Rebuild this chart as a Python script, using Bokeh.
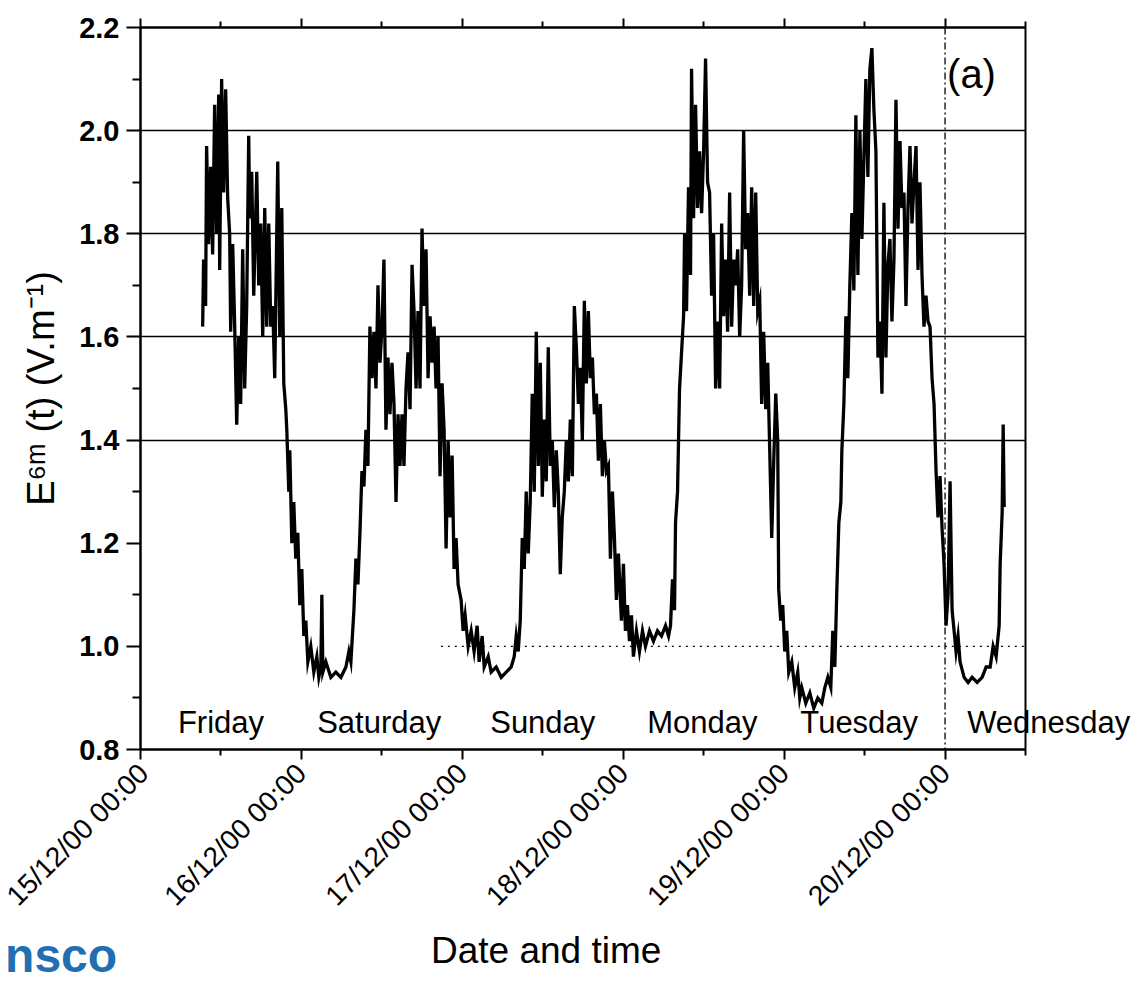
import math
from datetime import datetime, timezone

from bokeh.plotting import figure
from bokeh.models import (DatetimeAxis, FixedTicker, DatetimeTickFormatter,
                          PrintfTickFormatter, Span, Label, Range1d)
from bokeh.embed import file_html
from bokeh.resources import INLINE

# ---------------------------------------------------------------------------
# Electric field at 6 m height, 15/12/2000 - 20/12/2000
# time: hours elapsed since 15/12/00 00:00, field in V/m
# ---------------------------------------------------------------------------
hours = [
    9.27, 9.41, 9.71, 9.86, 10.16, 10.46, 10.76, 11.06, 11.36, 11.66, 11.81, 12.10, 12.40, 12.70,
    13.00, 13.30, 13.45, 13.75, 14.05, 14.35, 14.65, 14.94, 15.24, 15.54, 15.84, 16.14, 16.29,
    16.59, 16.89, 17.34, 17.63, 17.93, 18.23, 18.53, 18.83, 19.13, 19.43, 19.73, 20.02, 20.47,
    20.77, 21.07, 21.37, 21.67, 21.82, 22.12, 22.27, 22.57, 22.86, 23.16, 23.46, 23.76, 24.06,
    24.36, 24.66, 24.96, 25.40, 25.85, 26.30, 26.60, 26.90, 27.05, 27.20, 27.65, 28.39, 29.14,
    29.89, 30.64, 31.08, 31.38, 31.83, 32.13, 32.43, 32.73, 33.03, 33.33, 33.62, 33.92, 34.22,
    34.52, 34.82, 35.12, 35.42, 35.72, 36.02, 36.31, 36.61, 36.91, 37.21, 37.51, 37.81, 38.11,
    38.41, 38.71, 39.00, 39.30, 39.60, 39.90, 40.20, 40.50, 40.80, 41.10, 41.39, 41.69, 41.99,
    42.29, 42.59, 42.89, 43.19, 43.49, 43.79, 44.08, 44.38, 44.68, 44.98, 45.28, 45.58, 45.88,
    46.18, 46.48, 46.77, 47.07, 47.37, 47.82, 48.12, 48.42, 48.87, 49.32, 49.76, 50.21, 50.51,
    50.96, 51.26, 51.86, 52.30, 53.05, 53.80, 54.55, 55.29, 55.74, 56.04, 56.34, 56.64, 56.94,
    57.24, 57.53, 57.83, 58.13, 58.43, 58.73, 59.03, 59.33, 59.63, 59.93, 60.22, 60.52, 60.82,
    61.12, 61.42, 61.72, 62.02, 62.32, 62.61, 62.91, 63.21, 63.51, 63.81, 64.11, 64.41, 64.71,
    65.01, 65.31, 65.60, 65.90, 66.20, 66.50, 66.80, 67.10, 67.40, 67.70, 68.00, 68.29, 68.59,
    68.89, 69.19, 69.49, 69.79, 70.09, 70.39, 70.69, 70.98, 71.28, 71.73, 72.03, 72.33, 72.63,
    72.93, 73.23, 73.52, 73.97, 74.42, 74.87, 75.32, 75.92, 76.51, 77.11, 77.71, 78.31, 78.76,
    79.05, 79.35, 79.65, 79.80, 80.10, 80.25, 80.40, 80.70, 81.00, 81.15, 81.44, 81.74, 82.04,
    82.19, 82.49, 82.79, 83.09, 83.39, 83.69, 83.99, 84.28, 84.58, 84.88, 85.18, 85.48, 85.78,
    86.08, 86.38, 86.68, 86.97, 87.27, 87.57, 87.87, 88.17, 88.47, 88.77, 89.07, 89.37, 89.66,
    89.96, 90.26, 90.56, 90.86, 91.16, 91.46, 91.76, 92.06, 92.36, 92.65, 92.95, 93.25, 93.55,
    93.85, 94.15, 94.45, 94.75, 95.04, 95.19, 95.49, 95.79, 96.09, 96.39, 96.69, 97.14, 97.58,
    98.03, 98.33, 98.63, 99.23, 99.83, 100.42, 101.02, 101.62, 102.07, 102.52, 102.96, 103.26,
    103.56, 103.86, 104.16, 104.46, 104.61, 104.91, 105.21, 105.50, 105.80, 106.10, 106.40,
    106.70, 107.00, 107.30, 107.60, 107.90, 108.19, 108.49, 108.79, 109.09, 109.39, 109.69,
    109.99, 110.29, 110.59, 110.88, 111.18, 111.48, 111.78, 112.08, 112.38, 112.68, 112.98,
    113.28, 113.57, 113.87, 114.17, 114.47, 114.77, 115.07, 115.37, 115.67, 115.97, 116.26,
    116.56, 116.86, 117.16, 117.46, 117.76, 118.06, 118.36, 118.66, 118.95, 119.25, 119.55,
    119.85, 120.15, 120.45, 120.75, 121.05, 121.35, 121.64, 121.94, 122.24, 122.84, 123.44,
    124.04, 124.78, 125.53, 126.13, 126.73, 127.17, 127.62, 128.07, 128.22, 128.52, 128.67,
    128.82,
]

e_field = [
    1.62, 1.75, 1.66, 1.97, 1.78, 1.93, 1.76, 2.05, 1.80, 2.07, 1.73, 2.10, 1.88, 2.08,
    1.87, 1.80, 1.61, 1.78, 1.62, 1.43, 1.60, 1.47, 1.77, 1.50, 1.66, 1.99, 1.83,
    1.92, 1.68, 1.92, 1.70, 1.82, 1.60, 1.85, 1.62, 1.82, 1.62, 1.66, 1.52, 1.94,
    1.60, 1.85, 1.51, 1.46, 1.42, 1.30, 1.38, 1.20, 1.28, 1.17, 1.22, 1.08, 1.15,
    1.02, 1.05, 0.97, 1.00, 0.95, 0.98, 0.94, 0.96, 1.10, 0.95, 0.97, 0.94, 0.95,
    0.94, 0.96, 0.99, 0.97, 1.07, 1.17, 1.12, 1.22, 1.34, 1.31, 1.42, 1.35, 1.62,
    1.52, 1.61, 1.50, 1.70, 1.55, 1.62, 1.75, 1.42, 1.56, 1.45, 1.55, 1.47, 1.28,
    1.45, 1.35, 1.45, 1.35, 1.50, 1.57, 1.46, 1.74, 1.65, 1.50, 1.65, 1.50, 1.81,
    1.66, 1.77, 1.52, 1.64, 1.55, 1.62, 1.50, 1.60, 1.33, 1.51, 1.42, 1.19, 1.40,
    1.25, 1.37, 1.15, 1.21, 1.12, 1.09, 1.03, 1.06, 1.00, 1.03, 0.99, 1.04, 0.97,
    1.02, 0.96, 0.98, 0.95, 0.96, 0.94, 0.95, 0.96, 0.98, 1.02, 0.99, 1.05, 1.21,
    1.15, 1.30, 1.18, 1.28, 1.49, 1.30, 1.61, 1.35, 1.55, 1.29, 1.44, 1.32, 1.58,
    1.35, 1.40, 1.27, 1.38, 1.30, 1.14, 1.25, 1.30, 1.40, 1.32, 1.44, 1.33, 1.66,
    1.58, 1.47, 1.54, 1.40, 1.67, 1.51, 1.65, 1.52, 1.56, 1.45, 1.49, 1.36, 1.47,
    1.33, 1.40, 1.34, 1.35, 1.17, 1.30, 1.21, 1.09, 1.18, 1.05, 1.16, 1.03, 1.08,
    1.01, 1.06, 0.98, 1.03, 0.99, 1.03, 1.00, 1.03, 1.01, 1.03, 1.02, 1.04, 1.02,
    1.04, 1.13, 1.07, 1.24, 1.30, 1.40, 1.50, 1.57, 1.64, 1.80, 1.65, 1.89, 1.72,
    2.12, 1.83, 2.05, 1.85, 1.96, 1.84, 1.96, 2.14, 1.90, 1.88, 1.68, 1.80, 1.50,
    1.63, 1.50, 1.82, 1.64, 1.75, 1.61, 1.88, 1.62, 1.75, 1.70, 1.77, 1.60, 1.70,
    2.00, 1.77, 1.84, 1.68, 1.89, 1.66, 1.88, 1.65, 1.67, 1.47, 1.61, 1.46, 1.55,
    1.38, 1.21, 1.36, 1.49, 1.40, 1.11, 1.05, 1.08, 0.99, 1.03, 0.95, 0.97, 0.92,
    0.95, 0.90, 0.92, 0.89, 0.91, 0.88, 0.90, 0.89, 0.92, 0.94, 0.92, 1.03,
    0.96, 1.11, 1.24, 1.28, 1.38, 1.47, 1.64, 1.52, 1.70, 1.84, 1.69,
    2.03, 1.72, 2.00, 1.79, 1.95, 2.10, 1.91, 2.12, 2.16, 2.04, 1.96,
    1.56, 1.63, 1.49, 1.86, 1.56, 1.74, 1.79, 1.63, 1.75, 2.06, 1.81,
    1.98, 1.85, 1.88, 1.66, 1.85, 1.97, 1.82, 1.90, 1.97, 1.73, 1.90,
    1.72, 1.62, 1.68, 1.63, 1.62, 1.52, 1.47, 1.34, 1.25, 1.33, 1.23,
    1.16, 1.04, 1.10, 1.32, 1.07, 1.03, 0.99, 1.02, 0.97, 0.94, 0.93,
    0.94, 0.93, 0.94, 0.96, 0.96, 1.00, 0.98, 1.04, 1.16, 1.26, 1.43,
    1.27,
]

day_names = ["Friday", "Saturday", "Sunday", "Monday", "Tuesday", "Wednesday"]
day_label_hours = [12.0, 35.6, 60.0, 83.8, 107.2, 123.3]
day_label_align = ["center", "center", "center", "center", "center", "left"]

y_ticks = [0.8, 1.0, 1.2, 1.4, 1.6, 1.8, 2.0, 2.2]
y_minor = [0.9, 1.1, 1.3, 1.5, 1.7, 1.9, 2.1]
grid_levels = [1.4, 1.6, 1.8, 2.0]
n_days = 6

START_MS = datetime(2000, 12, 15, tzinfo=timezone.utc).timestamp() * 1000.0
HOUR_MS = 3600.0 * 1000.0


def t(h):
    """hours since 15/12/00 00:00 -> epoch milliseconds"""
    return START_MS + h * HOUR_MS


FONT = "Liberation Sans"

p = figure(
    x_axis_type="datetime",
    x_range=Range1d(t(0), t(132)),
    y_range=Range1d(0.8, 2.2),
    frame_width=885, frame_height=722,
    min_border_left=140, min_border_right=118,
    min_border_top=27, min_border_bottom=232,
    output_backend="svg", toolbar_location=None,
    background_fill_color="white", border_fill_color="white",
)
p.outline_line_color = "black"
p.outline_line_width = 2

# --- time axis (bottom) -----------------------------------------------------
day_ticks = [t(24 * d) for d in range(n_days)]
half_ticks = [t(24 * d + 12) for d in range(n_days)]
fmt = "%d/%m/%y %H:%M"
dt_fmt = DatetimeTickFormatter(
    microseconds=fmt, milliseconds=fmt, seconds=fmt, minsec=fmt, minutes=fmt,
    hourmin=fmt, hours=fmt, days=fmt, months=fmt, years=fmt,
)
xa = p.xaxis[0]
xa.ticker = FixedTicker(ticks=day_ticks, minor_ticks=half_ticks)
xa.formatter = dt_fmt
xa.major_label_orientation = math.pi / 4
xa.major_label_text_font = FONT
xa.major_label_text_font_size = "28px"
xa.major_label_text_color = "black"
xa.major_label_standoff = 9
xa.major_tick_out = 10
xa.major_tick_in = 0
xa.minor_tick_out = 6
xa.minor_tick_in = 0
xa.axis_line_width = 2
xa.major_tick_line_width = 2
xa.minor_tick_line_width = 2

# --- top axis: ticks only, labels not painted -------------------------------
top = DatetimeAxis(
    ticker=FixedTicker(ticks=day_ticks, minor_ticks=half_ticks),
    formatter=dt_fmt,
    major_label_text_font_size="1px",
    major_label_text_color=None,
    major_label_standoff=0,
    major_tick_out=9, major_tick_in=0, minor_tick_out=6, minor_tick_in=0,
    axis_line_width=2, major_tick_line_width=2, minor_tick_line_width=2,
)
p.add_layout(top, "above")

# --- field axis (left) ------------------------------------------------------
ya = p.yaxis[0]
ya.ticker = FixedTicker(ticks=y_ticks, minor_ticks=y_minor)
ya.formatter = PrintfTickFormatter(format="%.1f")
ya.major_label_text_font = FONT
ya.major_label_text_font_size = "29px"
ya.major_label_text_font_style = "bold"
ya.major_label_text_color = "black"
ya.major_label_standoff = 7
ya.major_tick_out = 14
ya.major_tick_in = 0
ya.minor_tick_out = 8
ya.minor_tick_in = 0
ya.axis_line_width = 2
ya.major_tick_line_width = 2
ya.minor_tick_line_width = 2
ya.axis_label = "E\u2076\u1d50 (t) (V.m\u207b\u00b9)"
ya.axis_label_text_font = FONT
ya.axis_label_text_font_size = "38px"
ya.axis_label_text_font_style = "normal"
ya.axis_label_text_color = "black"
ya.axis_label_standoff = 14

# --- reference lines --------------------------------------------------------
p.xgrid.visible = False
p.ygrid.ticker = FixedTicker(ticks=grid_levels)
p.ygrid.grid_line_color = "black"
p.ygrid.grid_line_width = 1.5

p.segment(x0=[t(44.8)], y0=[1.0], x1=[t(132)], y1=[1.0],
          line_color="black", line_width=1.3, line_dash="2 5")
p.add_layout(Span(location=t(120), dimension="height", line_color="black",
                  line_width=1.3, line_dash="7 3 2 3"))

# --- measured series --------------------------------------------------------
p.line(x=[t(h) for h in hours], y=e_field, line_color="black",
       line_width=3.3, line_join="miter")

# --- weekday names (Wednesday runs past the frame, so it sits in a side panel)
for name, h, al in zip(day_names, day_label_hours, day_label_align):
    lab = Label(x=t(h), y=0.852, text=name, text_align=al,
                text_baseline="middle", text_font=FONT,
                text_font_size="31px", text_color="black")
    p.add_layout(lab, "right" if al == "left" else "center")

p.add_layout(Label(x=t(120.3), y=2.11, text="(a)", text_align="left",
                   text_baseline="middle", text_font=FONT,
                   text_font_size="40px", text_color="black"))

# --- texts outside the frame ------------------------------------------------
p.add_layout(Label(x=t(60.5), y=0.41, text="Date and time", text_align="center",
                   text_baseline="middle", text_font=FONT,
                   text_font_size="37px", text_color="black"), "below")

p.add_layout(Label(x=t(-20.2), y=0.40, text="nsco", text_align="left",
                   text_baseline="middle", text_font=FONT,
                   text_font_size="48px", text_font_style="bold",
                   text_color="#1f6fb2"), "right")

open("out.html", "w").write(file_html(p, INLINE))
